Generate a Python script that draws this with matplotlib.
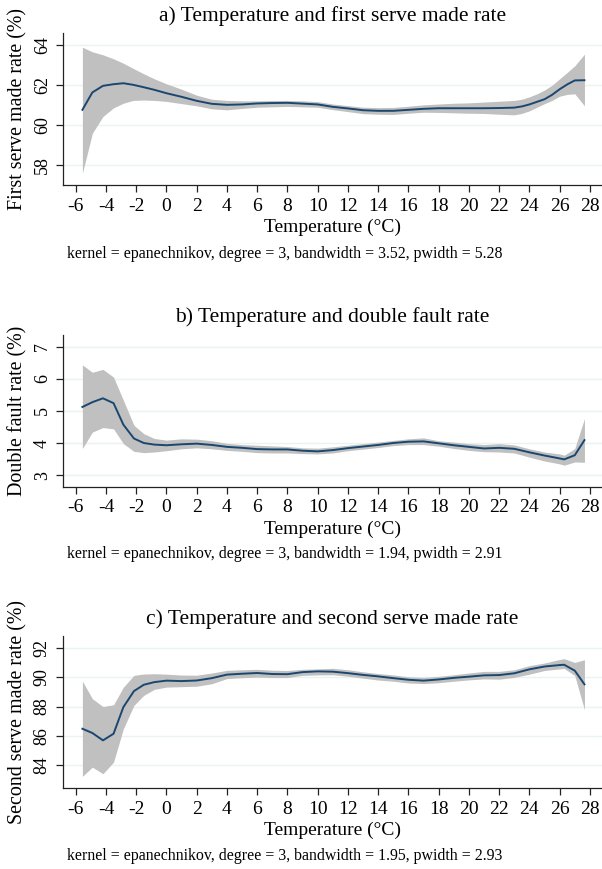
import matplotlib
matplotlib.use("Agg")
import matplotlib.pyplot as plt

plt.rcParams["font.family"] = ["Liberation Serif", "DejaVu Serif"]

# Local polynomial fits: evaluation points, fitted mean, 95% CI bounds
temp_a = [-5.56, -4.9, -4.2, -3.5, -2.85, -2.2, -1.5, -0.8, 0, 1, 2, 3, 4, 5, 6, 7, 8, 9, 10,
          11, 12, 13, 14, 15, 16, 17, 18, 19, 20, 21, 22, 23, 23.5, 24, 24.5, 25, 25.5, 26,
          26.5, 27, 27.64]
first_mean = [60.75, 61.62, 61.95, 62.03, 62.08, 62.0, 61.88, 61.75, 61.58, 61.4, 61.2, 61.05,
              61.0, 61.02, 61.07, 61.09, 61.1, 61.06, 61.02, 60.9, 60.82, 60.73, 60.7, 60.7,
              60.75, 60.8, 60.83, 60.83, 60.83, 60.83, 60.84, 60.86, 60.92, 61.02, 61.15, 61.28,
              61.5, 61.78, 62.02, 62.22, 62.23]
first_lo = [57.58, 59.58, 60.42, 60.85, 61.08, 61.22, 61.24, 61.22, 61.17, 61.06, 60.95, 60.8,
            60.75, 60.82, 60.88, 60.9, 60.92, 60.9, 60.88, 60.76, 60.66, 60.56, 60.53, 60.52,
            60.58, 60.63, 60.62, 60.6, 60.58, 60.57, 60.53, 60.5, 60.57, 60.7, 60.88, 61.06,
            61.22, 61.43, 61.52, 61.55, 60.95]
first_hi = [63.88, 63.65, 63.5, 63.3, 63.08, 62.82, 62.55, 62.3, 62.05, 61.78, 61.48, 61.28,
            61.22, 61.2, 61.2, 61.22, 61.22, 61.2, 61.16, 61.04, 60.96, 60.88, 60.86, 60.87,
            60.93, 61.0, 61.04, 61.08, 61.1, 61.14, 61.18, 61.22, 61.28, 61.4, 61.55, 61.74,
            61.98, 62.3, 62.62, 62.95, 63.53]

temp_b = [-5.56, -4.9, -4.2, -3.5, -2.85, -2.15, -1.5, -0.8, 0, 1, 2, 3, 4, 5, 6, 7, 8, 9, 10,
          11, 12, 13, 14, 15, 16, 17, 18, 19, 20, 21, 22, 23, 24, 25, 26, 26.3, 27, 27.64]
dfault_mean = [5.12, 5.27, 5.39, 5.24, 4.57, 4.14, 4.0, 3.95, 3.93, 3.96, 3.98, 3.94, 3.88,
               3.85, 3.81, 3.8, 3.8, 3.76, 3.74, 3.78, 3.84, 3.89, 3.94, 4.0, 4.04, 4.05, 3.99,
               3.93, 3.88, 3.83, 3.85, 3.82, 3.71, 3.61, 3.52, 3.49, 3.62, 4.09]
dfault_lo = [3.83, 4.34, 4.48, 4.44, 3.98, 3.74, 3.7, 3.72, 3.76, 3.82, 3.85, 3.82, 3.77, 3.74,
             3.7, 3.69, 3.69, 3.67, 3.66, 3.69, 3.76, 3.81, 3.86, 3.92, 3.95, 3.95, 3.9, 3.83,
             3.77, 3.73, 3.72, 3.69, 3.56, 3.44, 3.35, 3.31, 3.41, 3.4]
dfault_hi = [6.43, 6.2, 6.29, 6.05, 5.33, 4.55, 4.29, 4.14, 4.09, 4.13, 4.12, 4.07, 3.99, 3.95,
             3.93, 3.91, 3.89, 3.85, 3.84, 3.88, 3.93, 3.98, 4.03, 4.08, 4.13, 4.16, 4.07, 4.03,
             3.98, 3.95, 3.98, 3.94, 3.82, 3.72, 3.66, 3.62, 3.83, 4.76]

temp_c = [-5.56, -4.9, -4.2, -3.5, -2.85, -2.15, -1.5, -0.8, 0, 1, 2, 3, 4, 5, 6, 7, 8, 9, 10,
          11, 12, 13, 14, 15, 16, 17, 18, 19, 20, 21, 22, 23, 24, 25, 26, 26.3, 27, 27.64]
second_mean = [86.49, 86.2, 85.7, 86.15, 87.96, 89.05, 89.48, 89.66, 89.76, 89.73, 89.77,
               89.93, 90.17, 90.23, 90.28, 90.21, 90.2, 90.34, 90.39, 90.37, 90.27, 90.15,
               90.05, 89.93, 89.82, 89.76, 89.84, 89.95, 90.03, 90.12, 90.14, 90.26, 90.53,
               90.72, 90.82, 90.84, 90.44, 89.51]
second_lo = [83.25, 83.88, 83.43, 84.22, 86.49, 88.08, 88.76, 89.17, 89.32, 89.35, 89.38, 89.55,
             89.9, 89.96, 90.0, 89.97, 89.97, 90.12, 90.15, 90.16, 90.06, 89.93, 89.8, 89.72,
             89.6, 89.56, 89.62, 89.72, 89.81, 89.88, 89.86, 89.98, 90.2, 90.45, 90.56, 90.59,
             90.1, 87.78]
second_hi = [89.73, 88.53, 88.0, 88.12, 89.32, 90.12, 90.21, 90.23, 90.2, 90.14, 90.13, 90.28,
             90.46, 90.5, 90.53, 90.47, 90.45, 90.53, 90.56, 90.6, 90.5, 90.36, 90.24, 90.15,
             90.02, 89.98, 90.05, 90.16, 90.28, 90.39, 90.39, 90.5, 90.78, 90.96, 91.2, 91.25,
             91.0, 91.18]

xticks = list(range(-6, 29, 2))

panels = [
    dict(x=temp_a, mean=first_mean, lo=first_lo, hi=first_hi,
         title="a) Temperature and first serve made rate",
         ylabel="First serve made rate (%)", yticks=[58, 60, 62, 64], ylim=(56.98, 64.58),
         note="kernel = epanechnikov, degree = 3, bandwidth = 3.52, pwidth = 5.28",
         bottom=0.7868, title_y=0.9816, xlabel_y=0.7382, note_y=0.7077),
    dict(x=temp_b, mean=dfault_mean, lo=dfault_lo, hi=dfault_hi,
         title="b) Temperature and double fault rate",
         ylabel="Double fault rate (%)", yticks=[3, 4, 5, 6, 7], ylim=(2.64, 7.37),
         note="kernel = epanechnikov, degree = 3, bandwidth = 1.94, pwidth = 2.91",
         bottom=0.4399, title_y=0.6352, xlabel_y=0.3913, note_y=0.3625),
    dict(x=temp_c, mean=second_mean, lo=second_lo, hi=second_hi,
         title="c) Temperature and second serve made rate",
         ylabel="Second serve made rate (%)", yticks=[84, 86, 88, 90, 92], ylim=(82.46, 92.8),
         note="kernel = epanechnikov, degree = 3, bandwidth = 1.95, pwidth = 2.93",
         bottom=0.0932, title_y=0.2871, xlabel_y=0.0443, note_y=0.0150),
]

fig = plt.figure(figsize=(6.02, 8.69), dpi=100)
left, width, height = 0.1052, 0.8948, 0.175
xmid = left + width / 2

for p in panels:
    ax = fig.add_axes([left, p["bottom"], width, height])
    ax.fill_between(p["x"], p["lo"], p["hi"], color="#c0c0c0", lw=0, zorder=2)
    ax.plot(p["x"], p["mean"], color="#1a476f", lw=1.4, zorder=3)

    ax.set_xlim(-6.82, 28.8)
    ax.set_ylim(*p["ylim"])
    ax.set_xticks(xticks)
    ax.set_xticklabels([str(t) for t in xticks])
    ax.set_yticks(p["yticks"])
    ax.grid(axis="y", color="#eaf2f3", lw=1.0, zorder=0)
    ax.set_axisbelow(True)
    for side in ("top", "right"):
        ax.spines[side].set_visible(False)
    for side in ("left", "bottom"):
        ax.spines[side].set_color("#222222")
        ax.spines[side].set_linewidth(0.9)
    ax.tick_params(axis="both", direction="out", length=5, width=0.9, color="#222222")
    ax.tick_params(axis="x", labelsize=14, pad=4)
    ax.tick_params(axis="y", labelsize=13, pad=4, labelrotation=90)
    for lab in ax.get_yticklabels():
        lab.set_va("center")

    fig.text(xmid, p["title_y"], p["title"], ha="center", va="center", fontsize=15.5)
    fig.text(xmid, p["xlabel_y"], "Temperature (°C)", ha="center", va="center", fontsize=14)
    fig.text(0.030, p["bottom"] + height / 2, p["ylabel"], rotation=90,
             ha="center", va="center", fontsize=14.4)
    fig.text(67.3 / 602, p["note_y"], p["note"], ha="left", va="center", fontsize=11.4)

fig.savefig("out.png", dpi=100)
